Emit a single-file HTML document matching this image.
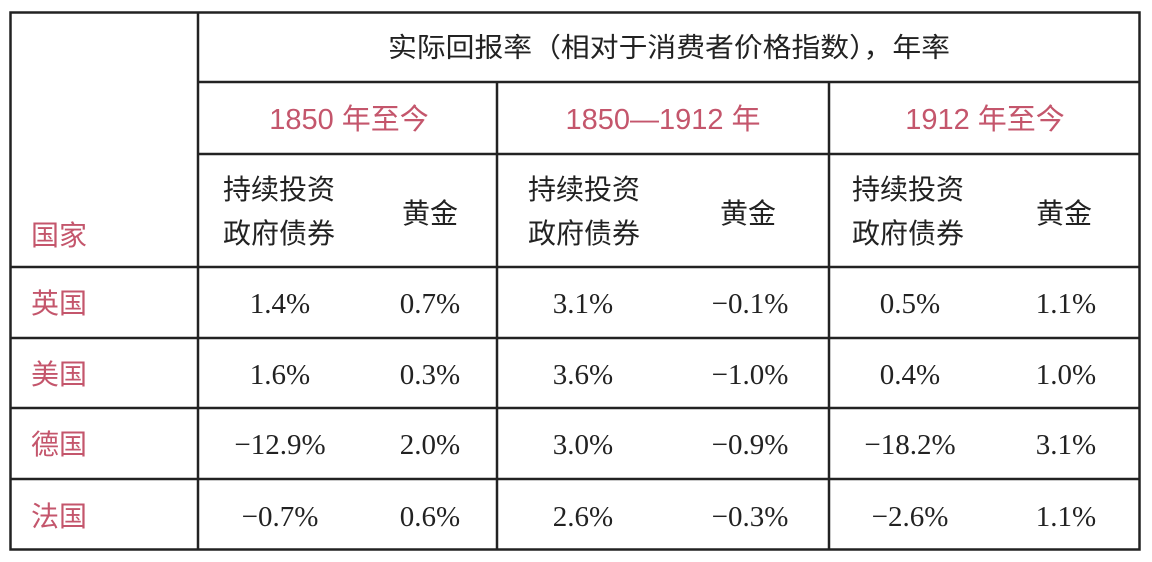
<!DOCTYPE html>
<html><head><meta charset="utf-8"><style>
body{margin:0;background:#fff;width:1152px;height:557px;overflow:hidden}
svg text{font-family:"Liberation Sans","Noto Sans CJK SC",sans-serif;fill:#222}
svg text.r{fill:#c4566c}
svg .n text{font-family:"Liberation Serif","Noto Serif CJK SC",serif;font-size:29px}
</style></head><body>
<svg width="1152" height="557" xmlns="http://www.w3.org/2000/svg">
<g stroke="#222" stroke-width="2.5" fill="none">
<rect x="10.5" y="12.5" width="1129" height="537"/>
<line x1="198" y1="12" x2="198" y2="550"/>
<line x1="497" y1="82" x2="497" y2="550"/>
<line x1="829" y1="82" x2="829" y2="550"/>
<line x1="198" y1="82" x2="1140" y2="82"/>
<line x1="198" y1="154" x2="1140" y2="154"/>
<line x1="10" y1="267" x2="1140" y2="267"/>
<line x1="10" y1="338" x2="1140" y2="338"/>
<line x1="10" y1="408" x2="1140" y2="408"/>
<line x1="10" y1="479" x2="1140" y2="479"/>
</g>
<text x="388" y="57" font-size="27" textLength="562" lengthAdjust="spacingAndGlyphs">实际回报率（相对于消费者价格指数），年率</text>
<g font-size="29" text-anchor="middle">
<text class="r" x="349" y="129">1850 年至今</text>
<text class="r" x="663" y="129">1850—1912 年</text>
<text class="r" x="985" y="129">1912 年至今</text>
</g>
<g font-size="28">
<text x="223" y="199">持续投资</text><text x="223" y="243">政府债券</text><text x="402" y="223">黄金</text>
<text x="528" y="199">持续投资</text><text x="528" y="243">政府债券</text><text x="720" y="223">黄金</text>
<text x="852" y="199">持续投资</text><text x="852" y="243">政府债券</text><text x="1036" y="223">黄金</text>
<text class="r" x="31" y="245">国家</text>
<text class="r" x="31" y="313">英国</text>
<text class="r" x="31" y="384">美国</text>
<text class="r" x="31" y="454">德国</text>
<text class="r" x="31" y="526">法国</text>
</g>
<g class="n" text-anchor="middle">
<text x="280" y="313">1.4%</text><text x="430" y="313">0.7%</text><text x="583" y="313">3.1%</text><text x="750" y="313">−0.1%</text><text x="910" y="313">0.5%</text><text x="1066" y="313">1.1%</text>
<text x="280" y="384">1.6%</text><text x="430" y="384">0.3%</text><text x="583" y="384">3.6%</text><text x="750" y="384">−1.0%</text><text x="910" y="384">0.4%</text><text x="1066" y="384">1.0%</text>
<text x="280" y="454">−12.9%</text><text x="430" y="454">2.0%</text><text x="583" y="454">3.0%</text><text x="750" y="454">−0.9%</text><text x="910" y="454">−18.2%</text><text x="1066" y="454">3.1%</text>
<text x="280" y="526">−0.7%</text><text x="430" y="526">0.6%</text><text x="583" y="526">2.6%</text><text x="750" y="526">−0.3%</text><text x="910" y="526">−2.6%</text><text x="1066" y="526">1.1%</text>
</g>
</svg>
</body></html>
